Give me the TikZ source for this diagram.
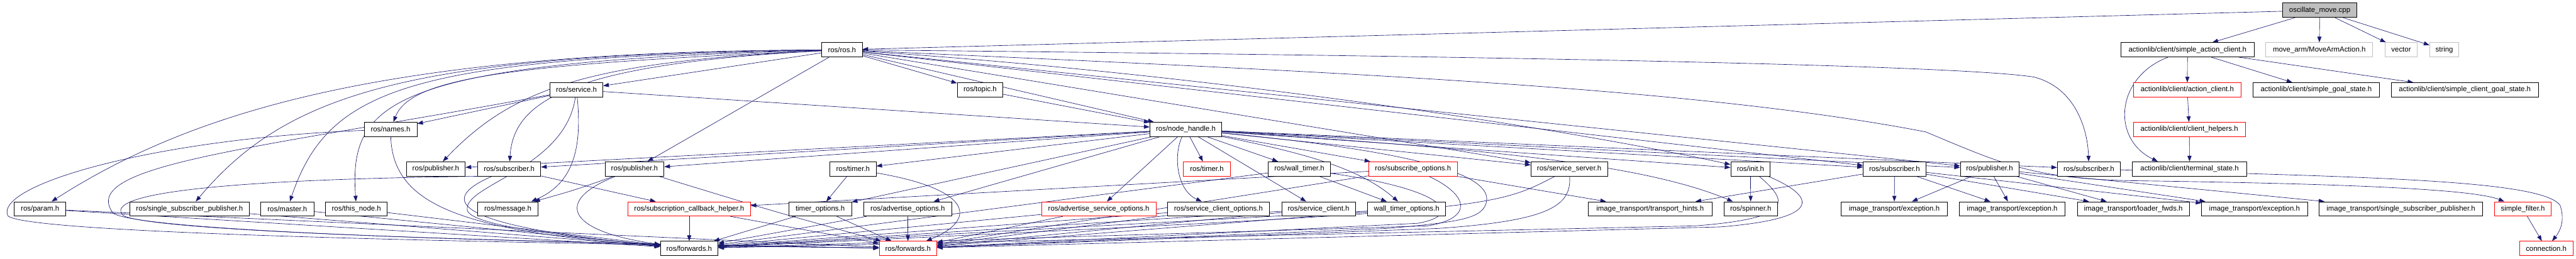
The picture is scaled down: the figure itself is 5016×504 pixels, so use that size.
\documentclass[tikz,border=0pt]{standalone}
\usepackage{fontspec}
\newfontfamily\dxfont{Liberation Sans}
\usetikzlibrary{arrows.meta}
\definecolor{edgeblue}{HTML}{191970}
\definecolor{gray75}{HTML}{BFBFBF}
\pgfdeclarelayer{edgelayer}
\pgfsetlayers{edgelayer,main}
\tikzset{
 box/.style={draw=black, fill=white, line width=1pt, minimum height=28, inner sep=0pt, font=\dxfont\fontsize{14}{16}\selectfont, text=black},
 redbox/.style={box, draw=red},
 greybox/.style={box, draw=gray75},
 rootbox/.style={box, fill=gray75},
 dep/.style={draw=edgeblue, line width=0.8pt, -{Triangle[length=11pt,width=8pt]}},
}
\newcommand\mknode[6]{\node[#6,minimum width={#3-#2}] (#1) at ({(#2+#3)/2},#4) {#5};}
\begin{document}
\begin{tikzpicture}[x=1pt,y=-1pt]
\useasboundingbox (0,0) rectangle (5016,504);
\begin{pgfonlayer}{edgelayer}
\fill[white] (0,0) rectangle (5016,504);
\end{pgfonlayer}
% row 0
\mknode{osc}{4445}{4589}{20}{oscillate\_move.cpp}{rootbox}
% row 1
\mknode{rosh}{1600}{1679}{97}{ros/ros.h}{box}
\mknode{sac}{4130}{4389}{97}{actionlib/client/simple\_action\_client.h}{box}
\mknode{mam}{4412}{4620}{97}{move\_arm/MoveArmAction.h}{greybox}
\mknode{vec}{4644}{4707}{97}{vector}{greybox}
\mknode{str}{4731}{4788}{97}{string}{greybox}
% row 2
\mknode{srv}{1071}{1174}{175}{ros/service.h}{box}
\mknode{topic}{1864}{1953}{175}{ros/topic.h}{box}
\mknode{acl}{4154}{4364}{175}{actionlib/client/action\_client.h}{redbox}
\mknode{sgs}{4387}{4633}{175}{actionlib/client/simple\_goal\_state.h}{box}
\mknode{scgs}{4656}{4943}{175}{actionlib/client/simple\_client\_goal\_state.h}{box}
% row 3
\mknode{names}{709}{812}{252}{ros/names.h}{box}
\mknode{nh}{2239}{2379}{252}{ros/node\_handle.h}{box}
\mknode{ch}{4154}{4372}{252}{actionlib/client/client\_helpers.h}{redbox}
% row 4
\mknode{pub1}{791}{906}{329}{ros/publisher.h}{box}
\mknode{sub1}{930}{1053}{329}{ros/subscriber.h}{box}
\mknode{pub2}{1178}{1293}{329}{ros/publisher.h}{box}
\mknode{timer1}{1616}{1706}{329}{ros/timer.h}{box}
\mknode{timer2}{2304}{2396}{329}{ros/timer.h}{redbox}
\mknode{wt}{2469}{2591}{329}{ros/wall\_timer.h}{box}
\mknode{so}{2665}{2838}{329}{ros/subscribe\_options.h}{redbox}
\mknode{ss}{2981}{3130}{329}{ros/service\_server.h}{box}
\mknode{init}{3370}{3447}{329}{ros/init.h}{box}
\mknode{sub2}{3628}{3750}{329}{ros/subscriber.h}{box}
\mknode{pub3}{3817}{3931}{329}{ros/publisher.h}{box}
\mknode{sub3}{4006}{4129}{329}{ros/subscriber.h}{box}
\mknode{ts}{4152}{4375}{329}{actionlib/client/terminal\_state.h}{box}
% row 5
\mknode{param}{28}{128}{407}{ros/param.h}{box}
\mknode{ssp}{253}{485}{407}{ros/single\_subscriber\_publisher.h}{box}
\mknode{master}{508}{611}{407}{ros/master.h}{box}
\mknode{thisnode}{634}{754}{407}{ros/this\_node.h}{box}
\mknode{msg}{930}{1048}{407}{ros/message.h}{box}
\mknode{sch}{1223}{1461}{407}{ros/subscription\_callback\_helper.h}{redbox}
\mknode{to}{1536}{1658}{407}{timer\_options.h}{box}
\mknode{ao}{1682}{1853}{407}{ros/advertise\_options.h}{box}
\mknode{aso}{2028}{2251}{407}{ros/advertise\_service\_options.h}{redbox}
\mknode{sco}{2273}{2472}{407}{ros/service\_client\_options.h}{box}
\mknode{sc}{2496}{2639}{407}{ros/service\_client.h}{box}
\mknode{wto}{2663}{2815}{407}{wall\_timer\_options.h}{box}
\mknode{th}{3092}{3334}{407}{image\_transport/transport\_hints.h}{box}
\mknode{spin}{3357}{3461}{407}{ros/spinner.h}{box}
\mknode{ex1}{3585}{3792}{407}{image\_transport/exception.h}{box}
\mknode{ex2}{3815}{4021}{407}{image\_transport/exception.h}{box}
\mknode{lf}{4045}{4263}{407}{image\_transport/loader\_fwds.h}{box}
\mknode{ex3}{4287}{4493}{407}{image\_transport/exception.h}{box}
\mknode{itssp}{4516}{4834}{407}{image\_transport/single\_subscriber\_publisher.h}{box}
\mknode{sf}{4857}{4968}{407}{simple\_filter.h}{redbox}
% row 6
\mknode{fw1}{1286}{1398}{484}{ros/forwards.h}{box}
\mknode{fw2}{1712}{1824}{484}{ros/forwards.h}{redbox}
\mknode{conn}{4906}{5010}{484}{connection.h}{redbox}

\begin{pgfonlayer}{edgelayer}
% root
\draw[dep] (osc) -- (rosh);
\draw[dep] (osc) -- (sac);
\draw[dep] (osc) -- (mam);
\draw[dep] (osc) -- (vec);
\draw[dep] (osc) -- (str);
% actionlib
\draw[dep] (sac) -- (acl);
\draw[dep] (sac) -- (sgs);
\draw[dep] (sac) -- (scgs);
\draw[dep] (sac) .. controls (4120,150) and (4110,270) .. ([xshift=50pt]ts.north west);
\draw[dep] (acl) -- (ch);
\draw[dep] (ch) -- (ts);
% ros.h to the left
\draw[dep] (rosh) -- (srv);
\draw[dep] (rosh) -- (pub2);
\draw[dep] (rosh) .. controls (800,100) and (400,200) .. (param);
\draw[dep] (rosh) .. controls (800,105) and (560,180) .. (ssp);
\draw[dep] (rosh) .. controls (800,112) and (640,170) .. (master);
\draw[dep] (rosh) .. controls (750,120) and (680,200) .. (thisnode);
\draw[dep] (rosh) .. controls (1000,125) and (800,150) .. (names);
\draw[dep] (rosh) .. controls (1150,120) and (1000,170) .. (pub1);
\draw[dep] (rosh) .. controls (1100,125) and (1000,200) .. (sub1);
% ros.h to the right
\draw[dep] (rosh) -- (topic);
\draw[dep] (rosh) -- (nh);
\draw[dep] (rosh) -- (ss);
\draw[dep] (rosh) .. controls (2300,140) and (3000,240) .. (init);
\draw[dep] (rosh) -- (sub2);
\draw[dep] (rosh) -- (pub3);
\draw[dep] (rosh) .. controls (2800,108) and (3800,125) .. (3960,150) .. controls (4040,170) and (4065,250) .. (sub3);
\draw[dep] (rosh) .. controls (2600,140) and (3300,170) .. (3750,257) .. controls (3900,320) and (3960,348) .. (4150,352) .. controls (4600,358) and (4820,370) .. (sf);
% service.h
\draw[dep] (srv) -- (names);
\draw[dep] (srv) -- (nh);
\draw[dep] (srv) .. controls (1135,300) and (1110,360) .. ([xshift=-14pt]msg.north east);
\draw[dep] (srv) .. controls (1100,330) and (900,360) .. (910,410) .. controls (920,440) and (1100,460) .. (fw1);
\draw[dep] (srv) .. controls (500,290) and (150,320) .. (220,415) .. controls (260,445) and (800,470) .. (fw2);
% topic.h
\draw[dep] (topic) -- (nh);
% names.h
\draw[dep] (names) .. controls (765,400) and (900,450) .. (fw1);
\draw[dep] (names) .. controls (300,270) and (-10,360) .. (15,420) .. controls (40,450) and (700,470) .. (fw2);
% subscriber.h (1)
\draw[dep] (sub1) .. controls (850,390) and (880,440) .. (fw1);
\draw[dep] (sub1.south west) .. controls (400,350) and (200,380) .. (240,420) .. controls (300,450) and (900,470) .. (fw2);
\draw[dep] (sub1) -- (sch);
% publisher.h (2)
\draw[dep] (pub2) .. controls (1120,370) .. (msg);
\draw[dep] (pub2) .. controls (1080,390) and (1100,450) .. (fw1);
\draw[dep] (pub2) .. controls (1500,410) .. (fw2);
% timers
\draw[dep] (timer1) -- (to);
\draw[dep] (timer1) .. controls (1900,370) and (1900,430) .. (fw2);
\draw[dep] (to) -- (fw1);
\draw[dep] (to) -- (fw2);
\draw[dep] (ao) -- (fw2);
\draw[dep] (ao) -- (fw1);
\draw[dep] (sch) -- (fw1);
\draw[dep] (sch) -- (fw2);
\draw[dep] (aso) -- (fw2);
\draw[dep] (aso) -- (fw1);
\draw[dep] (sco) -- (fw1);
\draw[dep] (sco) -- (fw2);
\draw[dep] (sc) -- (fw1);
\draw[dep] (sc) -- (fw2);
\draw[dep] (wto) -- (fw1);
\draw[dep] (wto) -- (fw2);
% subscribe_options.h
\draw[dep] (so) .. controls (2860,380) and (2870,425) .. (2780,440) -- (fw1);
\draw[dep] (so) -- (fw2);
\draw[dep] (so) -- (sch);
\draw[dep] (so) -- (th);
% wall_timer.h
\draw[dep] (wt) -- (wto);
\draw[dep] (wt) -- (fw1);
\draw[dep] (wt) .. controls (2820,370) and (2850,420) .. (2760,435) -- (fw2);
% node_handle.h
\draw[dep] (nh) -- (pub1);
\draw[dep] (nh) -- (sub1);
\draw[dep] (nh) -- (pub2);
\draw[dep] (nh) -- (timer1);
\draw[dep] (nh) -- (to);
\draw[dep] (nh) -- (ao);
\draw[dep] (nh) -- (aso);
\draw[dep] (nh) .. controls (2285,300) and (2290,370) .. (sco);
\draw[dep] (nh) -- (timer2);
\draw[dep] (nh) -- (sc);
\draw[dep] (nh) -- (wt);
\draw[dep] (nh) .. controls (2550,300) and (2650,330) .. (wto);
\draw[dep] (nh) -- (so);
\draw[dep] (nh) -- (ss);
\draw[dep] (nh) -- (init);
\draw[dep] (nh) -- (sub2);
\draw[dep] (nh) -- (pub3);
\draw[dep] (nh) -- (sub3);
\draw[dep] (nh) .. controls (2900,290) and (3200,320) .. (spin);
\draw[dep] (nh) .. controls (2700,290) and (2900,330) .. (2895,390) .. controls (2890,425) and (2850,432) .. (2700,445) -- (fw2);
% service_server.h
\draw[dep] (ss) .. controls (2900,410) .. (fw1);
\draw[dep] (ss) .. controls (3060,400) and (3020,430) .. (2800,445) -- (fw2);
% init.h
\draw[dep] (init) -- (spin);
\draw[dep] (init) .. controls (3480,390) and (3500,425) .. (3300,440) -- (fw1);
\draw[dep] (init) .. controls (3530,380) and (3560,425) .. (3350,442) -- (fw2);
% image_transport
\draw[dep] (sub2) -- (th);
\draw[dep] (sub2) -- (ex1);
\draw[dep] (sub2) -- (ex2);
\draw[dep] (sub2) -- (lf);
\draw[dep] (sub2) -- (ex3);
\draw[dep] (pub3) -- (ex1);
\draw[dep] (pub3) -- (ex2);
\draw[dep] (pub3) -- (lf);
\draw[dep] (pub3) -- (ex3);
\draw[dep] (pub3) -- (itssp);
% message_filters
\draw[dep] (sub3) .. controls (4600,345) and (4950,350) .. (4985,400) .. controls (4995,430) and (4985,450) .. (conn);
\draw[dep] (sf) -- (conn);
% far-left nodes
\draw[dep] (param) -- (fw1);
\draw[dep] (param) -- (fw2);
\draw[dep] (ssp) -- (fw1);
\draw[dep] (master) -- (fw1);
\draw[dep] (thisnode) -- (fw1);
\end{pgfonlayer}
\end{tikzpicture}
\end{document}
